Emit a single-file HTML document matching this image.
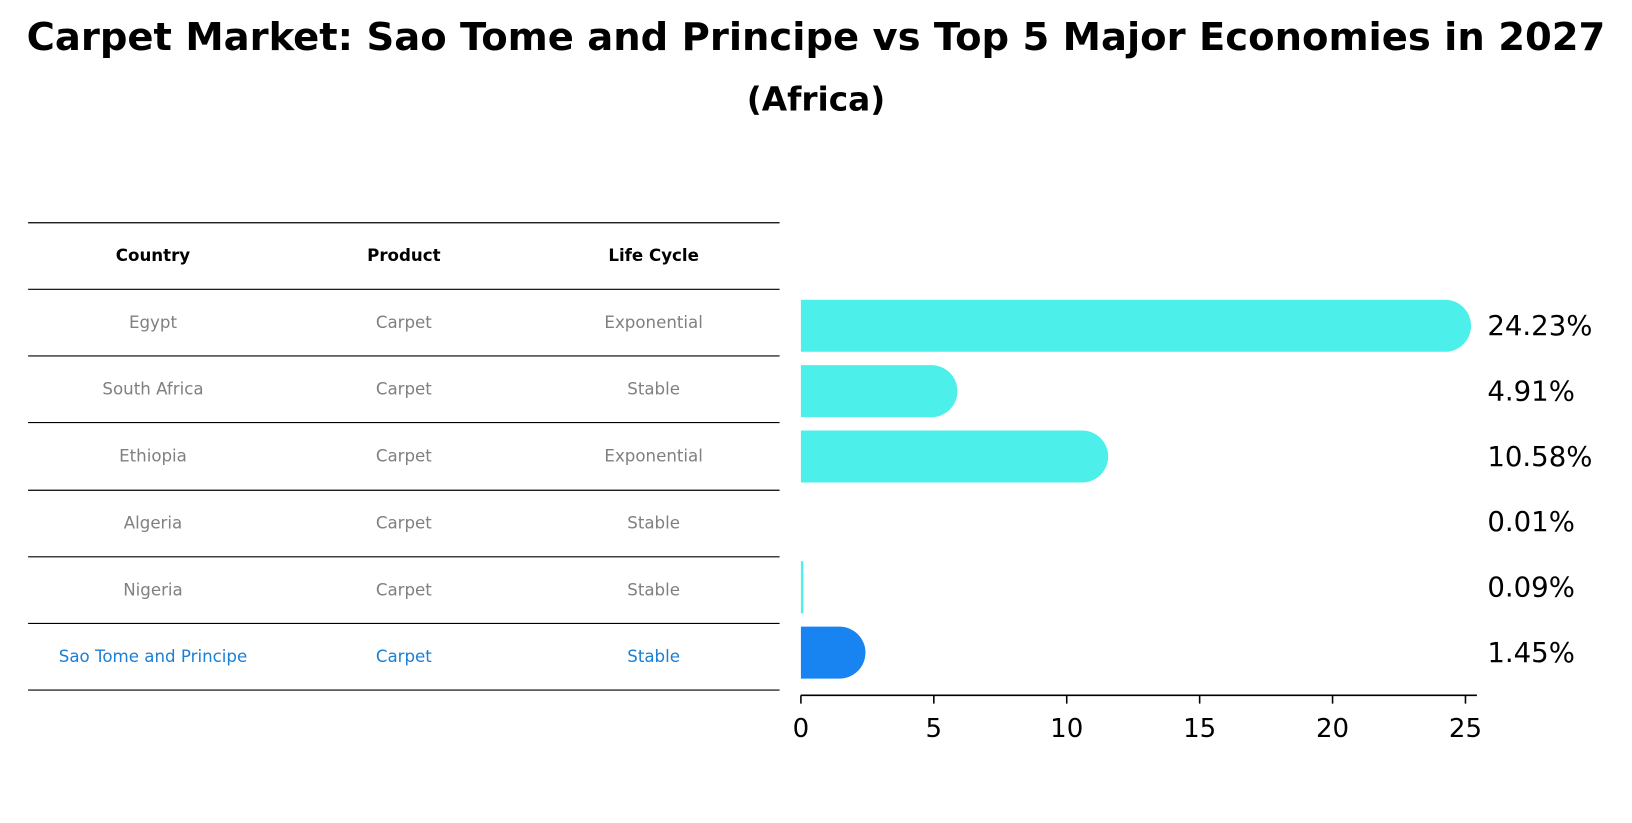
<!DOCTYPE html>
<html><head><meta charset="utf-8"><style>
body{margin:0;background:#fff;font-family:"Liberation Sans","DejaVu Sans",sans-serif}
</style></head><body>
<svg width="1632" height="823" viewBox="0 0 1568 790.7" preserveAspectRatio="none" xmlns="http://www.w3.org/2000/svg" font-family="DejaVu Sans, Liberation Sans, sans-serif" style="display:block">
<text x="784" y="48" text-anchor="middle" font-size="37" font-weight="bold">Carpet Market: Sao Tome and Principe vs Top 5 Major Economies in 2027</text>
<text x="784" y="106" text-anchor="middle" font-size="31.5" font-weight="bold">(Africa)</text>
<g id="table"></g>
<g id="bars"></g>
</svg>
<script>
const countries=["Egypt","South Africa","Ethiopia","Algeria","Nigeria","Sao Tome and Principe"];
const products=["Carpet","Carpet","Carpet","Carpet","Carpet","Carpet"];
const lifecycles=["Exponential","Stable","Exponential","Stable","Stable","Stable"];
const values=[24.23,4.91,10.58,0.01,0.09,1.45];
const valueLabels=["24.23%","4.91%","10.58%","0.01%","0.09%","1.45%"];
const ticks=[0,5,10,15,20,25];
const NS="http://www.w3.org/2000/svg";
function mk(p,t,a){const e=document.createElementNS(NS,t);for(const k in a)e.setAttribute(k,a[k]);p.appendChild(e);return e;}
const tb=document.getElementById('table');
const lineYs=[214,278,342,406,471,535,599,663];
lineYs.forEach(y=>{const l=mk(tb,'line',{x1:27,x2:749,y1:y,y2:y,stroke:'#000','stroke-width':1.1});

});
const colX=[147,388,628];
["Country","Product","Life Cycle"].forEach((h,i)=>{const t=mk(tb,'text',{x:colX[i],y:251,'text-anchor':'middle','font-size':16,'font-weight':'bold'});t.textContent=h;

});
countries.forEach((c,r)=>{const y=(lineYs[r+1]+lineYs[r+2])/2+5;const hl=r===countries.length-1;
[c,products[r],lifecycles[r]].forEach((v,i)=>{const t=mk(tb,'text',{x:colX[i],y:y,'text-anchor':'middle','font-size':16,fill:hl?'#1a7fd6':'#808080'});t.textContent=v;

});});
const bg=document.getElementById('bars');
const x0=769.5,pxPer=(1408-769.5)/25;
const xs=v=>x0+v*pxPer;
const rowY=i=>313+i*62.8;
const bh=50;
values.forEach((v,i)=>{
const fill=i===values.length-1?'#1784f2':'#4cefe9';
const y=rowY(i);const w=xs(v)-x0;
if(v>=0.5){const p=mk(bg,'path',{d:`M${x0},${y-bh/2} H${x0+w} A${bh/2},${bh/2} 0 0 1 ${x0+w},${y+bh/2} H${x0} Z`,fill:fill});

}
else if(v>=0.05){const p=mk(bg,'rect',{x:x0,y:y-bh/2,width:Math.max(w,2),height:bh,fill:fill});

}
const t=mk(bg,'text',{x:1429,y:y+9,'font-size':26.5});t.textContent=valueLabels[i];

});
const ax=mk(bg,'line',{x1:x0,x2:1419,y1:668,y2:668,stroke:'#000','stroke-width':1.5});


ticks.forEach(t=>{const l=mk(bg,'line',{x1:xs(t),x2:xs(t),y1:668,y2:676,stroke:'#000','stroke-width':1.5});


const tx=mk(bg,'text',{x:xs(t),y:708,'text-anchor':'middle','font-size':25});tx.textContent=t;

});
</script>
</body></html>
